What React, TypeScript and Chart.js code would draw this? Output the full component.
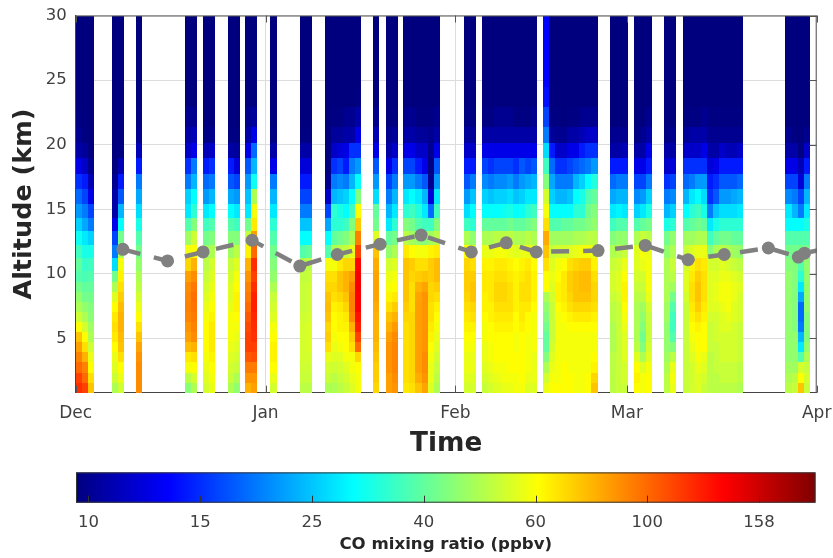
import { useEffect, useRef } from "react";
import { Chart, registerables } from "chart.js";

Chart.register(...registerables);

const FONT = "'DejaVu Sans', sans-serif";
const INK = "#404040";

// Altitude edges of the retrieval levels (km)
const altitudeEdges = [0.8, 1.58, 2.36, 3.14, 3.92, 4.7, 5.48, 6.26, 7.04, 7.82, 8.6, 9.38, 10.2, 11.2, 12.25, 13.3, 14.3, 15.4, 16.6, 17.7, 19, 20.1, 21.4, 22.9, 24.5, 26, 28, 30];

// Observation runs: first day since 1 Dec, number of daily profiles
const runStartDays = [0, 5.9, 9.9, 17.8, 20.8, 24.8, 27.7, 31.8, 36.6, 40.7, 48.6, 50.6, 53.5, 63.4, 66.4, 76.3, 87.2, 91.2, 96.1, 99.1, 115.9];
const runLengths = [3, 2, 1, 2, 2, 2, 2, 1, 2, 6, 1, 2, 6, 2, 9, 9, 3, 3, 2, 10, 4];

// Above the last listed level a profile stays at this value (ppbv)
const upperValue = 9.5;

// CO (ppbv) per daily profile, bottom level upwards
const profiles: number[][] = [
  [120, 113, 100, 93, 85, 76, 64, 55, 50, 46, 42, 38, 40, 36, 31, 26, 22, 19, 16, 13, 10.7, 10, 9.6],
  [113, 100, 93, 80, 70, 64, 56, 50, 46, 42, 40, 37, 35, 32, 28, 23, 20, 17, 15, 11.8, 10.3, 9.6],
  [76, 70, 64, 60, 55, 50, 48, 45, 44, 42, 40, 38, 36, 32, 26, 20, 17, 13, 11.2, 10],
  [50, 55, 58, 60, 64, 68, 70, 68, 64, 58, 50, 42, 27, 20, 17, 13, 10.7, 10.7, 10],
  [55, 60, 64, 70, 76, 78, 80, 80, 78, 74, 70, 66, 62, 50, 42, 30, 24, 18, 15, 11.2, 9.6],
  [90, 90, 90, 88, 84, 76, 70, 64, 60, 56, 52, 50, 46, 42, 38, 32, 27, 23, 20, 15, 11.2, 10, 9.6],
  [45, 52, 62, 68, 78, 85, 88, 92, 93, 92, 90, 85, 72, 62, 48, 38, 28, 26, 20, 16, 11.8, 10.7, 10],
  [50, 56, 64, 70, 80, 90, 93, 95, 97, 98, 96, 90, 80, 64, 55, 44, 34, 30, 24, 20, 13, 11.2, 10],
  [56, 58, 60, 62, 64, 64, 64, 62, 60, 58, 56, 54, 52, 48, 42, 36, 28, 22, 19, 15, 11.2, 9.6],
  [60, 62, 64, 66, 68, 68, 68, 66, 64, 62, 60, 58, 56, 50, 44, 38, 30, 24, 20, 16, 11.8, 10],
  [50, 54, 56, 58, 60, 62, 62, 62, 60, 58, 58, 56, 54, 48, 44, 38, 30, 23, 18, 15, 10.7, 9.6],
  [46, 50, 54, 56, 58, 60, 62, 64, 66, 66, 64, 62, 58, 52, 44, 36, 28, 22, 17, 12.4, 10.3, 9.6],
  [80, 88, 95, 105, 113, 113, 110, 105, 100, 96, 93, 88, 80, 66, 54, 42, 28, 25, 22, 18, 13, 10.7, 10],
  [85, 88, 95, 108, 113, 118, 120, 122, 125, 125, 120, 113, 120, 100, 85, 68, 62, 50, 31, 24, 19, 13, 10.3],
  [56, 60, 64, 66, 66, 64, 62, 58, 56, 54, 50, 46, 44, 42, 38, 34, 28, 24, 20, 13, 10.7, 9.6],
  [52, 54, 55, 56, 56, 56, 56, 55, 54, 54, 54, 53, 50, 38, 30, 25, 20, 17, 15, 12.4, 10.7, 9.6],
  [52, 54, 55, 56, 57, 57, 57, 56, 55, 55, 55, 54, 52, 40, 30, 25, 20, 17, 15, 12.4, 10.7, 9.6],
  [50, 54, 56, 60, 70, 74, 72, 76, 78, 76, 72, 70, 62, 38, 30, 23, 17, 11.8, 10, 9.6],
  [50, 52, 55, 58, 60, 62, 64, 64, 66, 70, 72, 70, 62, 50, 40, 34, 34, 24, 20, 16, 11.8, 10.3, 9.6],
  [52, 54, 56, 58, 62, 64, 66, 66, 68, 72, 76, 76, 68, 52, 42, 34, 32, 25, 21, 17, 12.4, 10.3, 9.6],
  [54, 56, 58, 62, 64, 64, 66, 68, 72, 76, 80, 80, 72, 54, 44, 36, 30, 26, 20, 15, 13, 10.7, 10],
  [58, 60, 62, 62, 70, 74, 80, 90, 93, 93, 90, 85, 72, 60, 50, 44, 36, 30, 24, 20, 16, 10.7, 10],
  [62, 62, 64, 72, 100, 113, 125, 130, 137, 137, 140, 140, 135, 113, 93, 75, 64, 44, 30, 22, 16, 13, 10.7, 9.6],
  [72, 74, 74, 76, 78, 80, 80, 80, 82, 84, 84, 84, 82, 76, 58, 42, 40, 27, 22, 18, 13, 11.2, 10],
  [85, 85, 88, 88, 88, 85, 80, 76, 70, 66, 62, 60, 56, 46, 40, 28, 24, 20, 17, 13, 10.7, 10],
  [88, 90, 92, 92, 92, 90, 86, 80, 74, 68, 64, 62, 58, 50, 42, 34, 28, 24, 20, 16, 11.8, 10.3, 9.6],
  [68, 70, 70, 70, 70, 70, 70, 72, 74, 76, 76, 76, 76, 68, 52, 44, 34, 28, 22, 17, 13, 10.7, 10],
  [70, 72, 72, 72, 72, 72, 72, 72, 70, 70, 70, 72, 74, 64, 48, 42, 36, 30, 22, 17, 13, 10.7, 10],
  [76, 82, 85, 85, 85, 85, 85, 85, 85, 84, 80, 74, 70, 62, 46, 38, 33, 28, 20, 15, 11.8, 10.3, 9.6],
  [84, 88, 90, 90, 88, 88, 88, 88, 88, 88, 84, 76, 70, 62, 44, 36, 28, 24, 18, 13, 11.8, 10.3, 9.6],
  [58, 60, 60, 62, 64, 66, 68, 70, 70, 72, 72, 74, 74, 66, 48, 36, 19, 12.4, 10, 9.6, 10, 10, 9.6],
  [50, 52, 54, 56, 58, 60, 62, 64, 66, 70, 74, 78, 78, 68, 52, 44, 36, 28, 22, 18, 13, 10.7, 10],
  [56, 58, 60, 60, 62, 64, 66, 68, 70, 72, 74, 74, 72, 64, 50, 36, 27, 22, 18, 15, 11.8, 10.3, 9.6],
  [56, 58, 60, 60, 62, 64, 66, 70, 72, 76, 76, 74, 70, 60, 46, 34, 30, 25, 20, 15, 11.8, 10.3, 9.6],
  [54, 56, 58, 60, 60, 62, 62, 64, 66, 66, 68, 68, 66, 60, 50, 40, 30, 26, 21, 17, 13, 10.7, 9.6],
  [56, 58, 60, 62, 62, 64, 64, 66, 66, 68, 68, 68, 66, 60, 50, 40, 30, 25, 20, 16, 13, 10.7, 9.6],
  [58, 60, 62, 64, 64, 64, 66, 68, 70, 72, 72, 70, 68, 62, 52, 40, 30, 26, 21, 17, 13, 10.7, 10],
  [60, 62, 62, 64, 64, 64, 66, 68, 70, 72, 72, 70, 68, 62, 52, 40, 31, 26, 21, 17, 13, 10.7, 10],
  [60, 62, 64, 64, 64, 64, 66, 68, 70, 70, 70, 68, 66, 60, 52, 42, 32, 27, 22, 17, 13, 10.7, 10],
  [62, 62, 64, 64, 62, 62, 64, 64, 66, 66, 66, 66, 64, 58, 50, 40, 30, 25, 20, 16, 13, 10.7, 9.6],
  [62, 64, 64, 64, 64, 64, 66, 68, 68, 70, 70, 68, 66, 60, 50, 40, 31, 26, 22, 18, 13, 10.7, 9.6],
  [58, 60, 62, 62, 62, 62, 64, 64, 68, 70, 70, 70, 68, 60, 52, 42, 34, 28, 23, 17, 13, 10.7, 9.6],
  [58, 60, 60, 60, 62, 62, 62, 62, 64, 66, 66, 66, 64, 58, 50, 44, 36, 28, 24, 18, 13, 10.7, 10],
  [60, 56, 50, 44, 40, 40, 42, 44, 46, 50, 64, 64, 70, 76, 82, 70, 62, 56, 44, 36, 27, 20, 17, 14.5, 14, 14, 14],
  [64, 62, 60, 58, 56, 54, 54, 54, 54, 56, 58, 60, 58, 54, 48, 38, 30, 26, 23, 19, 15, 10.3, 9.6],
  [64, 62, 62, 62, 62, 62, 62, 62, 64, 66, 66, 64, 62, 56, 48, 38, 30, 24, 20, 16, 11.8, 10, 9.6],
  [64, 64, 64, 62, 62, 62, 62, 64, 66, 68, 68, 68, 64, 56, 48, 40, 30, 24, 20, 16, 11.8, 10],
  [64, 64, 62, 62, 62, 62, 64, 66, 70, 72, 74, 74, 70, 58, 48, 40, 30, 25, 20, 17, 13, 10.7, 9.6],
  [62, 62, 62, 62, 62, 62, 64, 68, 72, 76, 76, 76, 72, 60, 50, 42, 34, 30, 24, 18, 13, 10.7, 9.6],
  [62, 62, 62, 62, 62, 62, 64, 68, 72, 76, 78, 78, 74, 62, 50, 42, 34, 32, 26, 19, 15, 11.2, 10],
  [64, 64, 62, 62, 62, 62, 64, 68, 72, 76, 78, 78, 74, 62, 52, 44, 42, 38, 30, 20, 16, 11.8, 10],
  [76, 72, 66, 64, 62, 62, 64, 66, 70, 72, 72, 70, 66, 60, 52, 46, 44, 40, 33, 22, 16, 11.8, 10],
  [52, 52, 52, 52, 50, 50, 50, 52, 52, 54, 56, 56, 54, 50, 44, 36, 28, 23, 19, 15, 10.7, 10],
  [54, 54, 54, 54, 54, 54, 54, 54, 54, 56, 58, 58, 56, 52, 46, 38, 29, 24, 20, 15, 10.7, 10],
  [54, 56, 56, 58, 58, 58, 60, 62, 64, 66, 66, 64, 60, 54, 46, 38, 28, 24, 20, 15, 11.2, 10],
  [64, 66, 64, 58, 52, 50, 50, 50, 50, 52, 54, 56, 58, 58, 50, 38, 26, 21, 17, 13, 10.7, 9.6],
  [62, 62, 58, 50, 44, 42, 44, 46, 48, 52, 54, 56, 60, 62, 54, 40, 28, 22, 17, 13, 10.7, 10],
  [64, 64, 62, 58, 56, 54, 54, 54, 56, 60, 62, 62, 62, 60, 52, 42, 32, 26, 20, 15, 13, 10.7, 10],
  [52, 52, 50, 48, 46, 46, 46, 48, 48, 50, 50, 50, 50, 46, 42, 32, 24, 20, 16, 11.8, 10.7, 9.6],
  [60, 62, 60, 52, 44, 38, 36, 36, 38, 42, 48, 52, 54, 50, 46, 34, 26, 21, 17, 12.4, 10.7, 10],
  [54, 54, 54, 54, 54, 54, 54, 54, 54, 56, 58, 58, 56, 54, 48, 38, 30, 24, 19, 16, 11.8, 10.3, 9.6],
  [56, 56, 56, 58, 60, 62, 64, 66, 68, 70, 70, 68, 66, 58, 48, 40, 34, 28, 20, 16, 11.8, 10.7, 9.6],
  [58, 58, 60, 62, 64, 64, 66, 70, 74, 76, 76, 74, 70, 60, 50, 42, 36, 30, 22, 16, 11.8, 10.7, 9.6],
  [54, 56, 58, 60, 64, 64, 64, 66, 68, 70, 70, 70, 68, 60, 50, 40, 32, 27, 22, 16, 13, 10.7, 10],
  [52, 52, 52, 52, 54, 54, 54, 56, 58, 58, 58, 58, 56, 44, 36, 28, 20, 16, 15, 12.4, 10.7, 10, 9.6],
  [52, 52, 54, 54, 54, 56, 56, 56, 58, 60, 60, 58, 56, 50, 40, 32, 25, 18, 16, 13, 10.7, 10, 9.6],
  [52, 54, 54, 56, 56, 56, 58, 58, 60, 62, 62, 60, 58, 52, 42, 34, 27, 22, 18, 15, 11.8, 10, 9.6],
  [52, 54, 54, 56, 56, 56, 58, 60, 62, 62, 62, 60, 56, 50, 42, 34, 27, 22, 18, 15, 11.2, 10, 9.6],
  [52, 54, 54, 56, 56, 56, 56, 58, 58, 60, 60, 58, 54, 48, 40, 34, 27, 23, 18, 15, 11.2, 10, 9.6],
  [50, 52, 52, 54, 54, 54, 54, 56, 56, 56, 58, 56, 52, 46, 40, 34, 28, 24, 19, 15, 11.8, 10, 9.6],
  [52, 50, 48, 46, 46, 46, 46, 46, 46, 46, 46, 46, 44, 42, 38, 30, 28, 21, 17, 13, 10.7, 10],
  [54, 52, 48, 46, 46, 46, 44, 44, 44, 44, 44, 44, 44, 42, 38, 30, 24, 20, 17, 13, 10.7, 9.6],
  [76, 64, 56, 38, 28, 24, 20, 19, 19, 23, 28, 34, 38, 42, 38, 30, 20, 17, 12.4, 11.2, 9.6],
  [54, 56, 54, 50, 46, 44, 44, 44, 46, 46, 46, 46, 46, 42, 38, 32, 28, 24, 20, 15, 11.8, 10],
];

// Dashed tropopause line: day since 1 Dec, altitude (km)
const tropopauseDays = [7.7, 15, 20.8, 28.8, 36.6, 42.7, 49.7, 56.4, 64.6, 70.3, 75.2, 85.3, 93, 100, 105.9, 113.1, 118, 119, 122];
const tropopauseAltitudes = [11.9, 11, 11.7, 12.6, 10.6, 11.5, 12.3, 13, 11.7, 12.4, 11.7, 11.8, 12.2, 11.1, 11.5, 12, 11.3, 11.6, 11.9];

const monthDays = [0, 31, 62, 90, 121];
const monthLabels = ["Dec", "Jan", "Feb", "Mar", "Apr"];
const altitudeTicks = [5, 10, 15, 20, 25, 30];

const colorTickValues = [10, 15.85, 25.12, 39.81, 63.1, 100, 158.5];
const colorTickLabels = ["10", "15", "25", "40", "60", "100", "158"];
const colorMin = 9.5;
const colorMax = 200;

const jetStops: [number, number, number, number][] = [
  [0, 0, 0, 127],
  [0.125, 0, 0, 255],
  [0.375, 0, 255, 255],
  [0.625, 255, 255, 0],
  [0.875, 255, 0, 0],
  [1, 127, 0, 0],
];

function jet(t: number) {
  const c = Math.max(0, Math.min(1, t));
  for (let i = 1; i < jetStops.length; i++) {
    const a = jetStops[i - 1];
    const b = jetStops[i];
    if (c <= b[0]) {
      const f = (c - a[0]) / (b[0] - a[0]);
      return `rgb(${a[1] + (b[1] - a[1]) * f},${a[2] + (b[2] - a[2]) * f},${a[3] + (b[3] - a[3]) * f})`;
    }
  }
  return "rgb(127,0,0)";
}

function colorFor(v: number) {
  return jet(Math.log(v / colorMin) / Math.log(colorMax / colorMin));
}

const heatmapPlugin = {
  id: "heatmap",
  beforeDatasetsDraw(chart: any) {
    const { ctx, scales } = chart;
    const x = scales.x;
    const y = scales.y;
    ctx.save();
    let index = 0;
    runStartDays.forEach((start, run) => {
      for (let k = 0; k < runLengths[run]; k++) {
        const profile = profiles[index++];
        const x0 = Math.round(x.getPixelForValue(start + k * 0.99));
        const x1 = Math.round(x.getPixelForValue(start + (k + 1) * 0.99));
        for (let r = 0; r < altitudeEdges.length - 1; r++) {
          const v = r < profile.length ? profile[r] : upperValue;
          const y0 = Math.round(y.getPixelForValue(altitudeEdges[r]));
          const y1 = Math.round(y.getPixelForValue(altitudeEdges[r + 1]));
          ctx.fillStyle = colorFor(v);
          ctx.fillRect(x0, y1, x1 - x0, y0 - y1);
        }
      }
    });
    ctx.restore();
  },
  afterDatasetsDraw(chart: any) {
    const { ctx, chartArea: a, scales } = chart;
    ctx.save();
    ctx.strokeStyle = "#555555";
    ctx.lineWidth = 1;
    ctx.beginPath();
    ctx.moveTo(a.left, a.top + 0.5);
    ctx.lineTo(a.right, a.top + 0.5);
    ctx.moveTo(a.right - 0.5, a.top);
    ctx.lineTo(a.right - 0.5, a.bottom);
    monthDays.forEach((d) => {
      const px = Math.round(scales.x.getPixelForValue(d)) + 0.5;
      ctx.moveTo(px, a.top);
      ctx.lineTo(px, a.top + 7);
      ctx.moveTo(px, a.bottom);
      ctx.lineTo(px, a.bottom - 7);
    });
    altitudeTicks.forEach((h) => {
      const py = Math.round(scales.y.getPixelForValue(h)) + 0.5;
      ctx.moveTo(a.right, py);
      ctx.lineTo(a.right - 7, py);
    });
    ctx.stroke();
    ctx.restore();
  },
};

const colorbarPlugin = {
  id: "colorbarFill",
  beforeDatasetsDraw(chart: any) {
    const { ctx, chartArea: a, scales } = chart;
    ctx.save();
    const g = ctx.createLinearGradient(a.left, 0, a.right, 0);
    jetStops.forEach((s) => g.addColorStop(s[0], `rgb(${s[1]},${s[2]},${s[3]})`));
    ctx.fillStyle = g;
    ctx.fillRect(a.left, a.top, a.right - a.left, a.bottom - a.top);
    ctx.strokeStyle = "#333333";
    ctx.lineWidth = 1;
    ctx.strokeRect(a.left + 0.5, a.top + 0.5, a.right - a.left - 1, a.bottom - a.top - 1);
    ctx.beginPath();
    colorTickValues.forEach((v) => {
      const px = Math.round(scales.x.getPixelForValue(v)) + 0.5;
      ctx.moveTo(px, a.bottom);
      ctx.lineTo(px, a.bottom - 7);
    });
    ctx.stroke();
    ctx.restore();
  },
};

export default function App() {
  const mainRef = useRef<HTMLCanvasElement>(null);
  const barRef = useRef<HTMLCanvasElement>(null);

  useEffect(() => {
    const main = new Chart(mainRef.current!, {
      type: "line",
      data: {
        datasets: [
          {
            data: tropopauseDays.map((d, i) => ({ x: d, y: tropopauseAltitudes[i] })),
            borderColor: "#808080",
            backgroundColor: "#808080",
            borderWidth: 4.5,
            borderDash: [18, 14],
            pointRadius: (c: any) => (c.dataIndex === tropopauseDays.length - 1 ? 0 : 6.5),
            pointBorderWidth: 0,
            tension: 0,
          },
        ],
      },
      options: {
        animation: false,
        responsive: false,
        events: [],
        layout: { padding: { left: 0, right: 16.3, top: 15.5, bottom: 94.3 } },
        plugins: { legend: { display: false }, tooltip: { enabled: false } },
        scales: {
          x: {
            type: "linear",
            min: 0,
            max: 121,
            afterBuildTicks: (s: any) => {
              s.ticks = monthDays.map((value) => ({ value }));
            },
            afterFit: (s: any) => {
              s.height = 71;
              s.paddingLeft = 0;
              s.paddingRight = 0;
            },
            grid: { color: "#dcdcdc", lineWidth: 1, drawTicks: false },
            border: { display: true, color: "#444444" },
            ticks: {
              autoSkip: false,
              maxRotation: 0,
              padding: 10.5,
              color: INK,
              font: { family: FONT, size: 17 },
              callback: (v: any) => monthLabels[monthDays.indexOf(Number(v))] ?? "",
            },
            title: {
              display: true,
              text: "Time",
              color: "#262626",
              font: { family: FONT, size: 26.3, weight: "bold" },
              padding: { top: 0, bottom: 3.9 },
            },
          },
          y: {
            type: "linear",
            min: 0.8,
            max: 30,
            afterBuildTicks: (s: any) => {
              s.ticks = altitudeTicks.map((value) => ({ value }));
            },
            afterFit: (s: any) => {
              s.width = 75.7;
              s.paddingTop = 0;
              s.paddingBottom = 0;
            },
            grid: { color: "#dcdcdc", lineWidth: 1, drawTicks: false },
            border: { display: true, color: "#444444" },
            ticks: {
              autoSkip: false,
              padding: 9,
              color: INK,
              font: { family: FONT, size: 16.5 },
            },
            title: {
              display: true,
              text: "Altitude (km)",
              color: "#262626",
              font: { family: FONT, size: 25.5, weight: "bold" },
              padding: { top: 9, bottom: 0 },
            },
          },
        },
      },
      plugins: [heatmapPlugin],
    } as any);

    const bar = new Chart(barRef.current!, {
      type: "scatter",
      data: { datasets: [{ data: [] }] },
      options: {
        animation: false,
        responsive: false,
        events: [],
        layout: { padding: { left: 76, right: 17.5, top: 472.4, bottom: 0 } },
        plugins: { legend: { display: false }, tooltip: { enabled: false } },
        scales: {
          x: {
            type: "logarithmic",
            min: colorMin,
            max: colorMax,
            afterBuildTicks: (s: any) => {
              s.ticks = colorTickValues.map((value) => ({ value }));
            },
            afterFit: (s: any) => {
              s.height = 55.3;
              s.paddingLeft = 0;
              s.paddingRight = 0;
            },
            grid: { display: false },
            border: { display: false },
            ticks: {
              autoSkip: false,
              maxRotation: 0,
              padding: 2.5,
              color: INK,
              font: { family: FONT, size: 16.5 },
              callback: (v: any) => colorTickLabels[colorTickValues.indexOf(Number(v))] ?? "",
            },
            title: {
              display: true,
              text: "CO mixing ratio (ppbv)",
              color: "#262626",
              font: { family: FONT, size: 16.6, weight: "bold" },
              padding: { top: 0, bottom: 3 },
            },
          },
          y: { display: false, min: 0, max: 1 },
        },
      },
      plugins: [colorbarPlugin],
    } as any);

    return () => {
      main.destroy();
      bar.destroy();
    };
  }, []);

  const canvasStyle = { position: "absolute", top: 0, left: 0 } as const;
  return (
    <div style={{ position: "absolute", top: 0, left: 0, width: 833, height: 558, background: "#fff", filter: "blur(0.5px)" }}>
      <canvas ref={mainRef} width={833} height={558} style={canvasStyle} />
      <canvas ref={barRef} width={833} height={558} style={canvasStyle} />
    </div>
  );
}
